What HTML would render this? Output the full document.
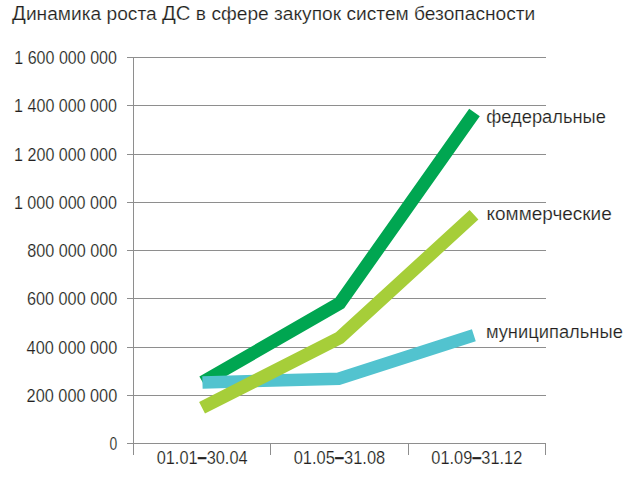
<!DOCTYPE html>
<html><head><meta charset="utf-8">
<style>
html,body{margin:0;padding:0;background:#fff;}
body{width:634px;height:482px;overflow:hidden;}
svg{display:block;}
text{font-family:"Liberation Sans",sans-serif;fill:#231f20;stroke:#fff;stroke-width:0.18px;}
</style></head>
<body>
<svg width="634" height="482" viewBox="0 0 634 482">
<rect width="634" height="482" fill="#fff"/>
<g stroke="#8e8e8e" stroke-width="1" shape-rendering="crispEdges" fill="none">
<path d="M127 57.5H546M127 105.5H546M127 154.5H546M127 202.5H546M127 250.5H546M127 298.5H546M127 347.5H546M127 395.5H546M127 443.5H546"/>
<path d="M133.5 57V455M270.5 443V455M408.5 443V455M545.5 443V455"/>
</g>
<text x="12.10" y="20" font-size="19.2" textLength="523.21" lengthAdjust="spacingAndGlyphs"><tspan font-size="20.4">Д</tspan>инамика роста <tspan font-size="20.4">ДС</tspan> в сфере закупок систем безопасности</text>
<text x="14.29" y="63.6" font-size="17.6" textLength="102.67" lengthAdjust="spacingAndGlyphs">1 600 000 000</text>
<text x="14.09" y="111.6" font-size="17.6" textLength="102.87" lengthAdjust="spacingAndGlyphs">1 400 000 000</text>
<text x="14.09" y="160.6" font-size="17.6" textLength="102.87" lengthAdjust="spacingAndGlyphs">1 200 000 000</text>
<text x="13.88" y="208.6" font-size="17.6" textLength="103.07" lengthAdjust="spacingAndGlyphs">1 000 000 000</text>
<text x="27.20" y="256.6" font-size="17.6" textLength="90.06" lengthAdjust="spacingAndGlyphs">800 000 000</text>
<text x="27.00" y="304.6" font-size="17.6" textLength="90.26" lengthAdjust="spacingAndGlyphs">600 000 000</text>
<text x="26.60" y="353.6" font-size="17.6" textLength="90.66" lengthAdjust="spacingAndGlyphs">400 000 000</text>
<text x="26.60" y="401.6" font-size="17.6" textLength="90.66" lengthAdjust="spacingAndGlyphs">200 000 000</text>
<text x="109.50" y="449.6" font-size="17.6" textLength="7.74" lengthAdjust="spacingAndGlyphs">0</text>
<text x="486.30" y="123" font-size="18" textLength="119.55" lengthAdjust="spacingAndGlyphs">федеральные</text>
<text x="486.50" y="219.7" font-size="18" textLength="125.29" lengthAdjust="spacingAndGlyphs">коммерческие</text>
<text x="485.90" y="337.7" font-size="18" textLength="136.98" lengthAdjust="spacingAndGlyphs">муниципальные</text>
<text x="156.70" y="464" font-size="17.8" textLength="90.90" lengthAdjust="spacingAndGlyphs">01.01<tspan font-weight="bold" dy="-1" style="stroke:#231f20;stroke-width:0.5px">–</tspan><tspan dy="1">30.04</tspan></text>
<text x="293.70" y="464" font-size="17.8" textLength="91.50" lengthAdjust="spacingAndGlyphs">01.05<tspan font-weight="bold" dy="-1" style="stroke:#231f20;stroke-width:0.5px">–</tspan><tspan dy="1">31.08</tspan></text>
<text x="431.30" y="464" font-size="17.8" textLength="91.00" lengthAdjust="spacingAndGlyphs">01.09<tspan font-weight="bold" dy="-1" style="stroke:#231f20;stroke-width:0.5px">–</tspan><tspan dy="1">31.12</tspan></text>
<g fill="none" stroke-width="13" stroke-linecap="butt" stroke-linejoin="miter">
<polyline stroke="#00a651" points="202.6,382.1 339.7,303.25 474.5,112.4"/>
<polyline stroke="#52c3cf" stroke-width="12.6" points="202.45,382.5 338.7,378.7 473.85,335.3"/>
<polyline stroke="#a6ce39" points="202.05,407.8 339.6,337.9 474,214.7"/>
</g>
</svg>
</body></html>
